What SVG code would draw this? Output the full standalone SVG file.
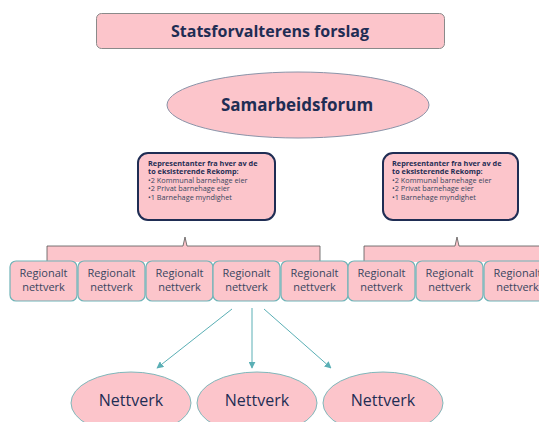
<svg xmlns="http://www.w3.org/2000/svg" width="539" height="422" viewBox="0 0 539 422">
<defs>
<style>
.t{font-family:"Open Sans","Liberation Sans",sans-serif;fill:#1f2d54;text-anchor:middle}
.reg{fill:#fcc5cb;stroke:#6fb4b8;stroke-width:1.2}
.regt{font-family:"Open Sans","Liberation Sans",sans-serif;fill:#3a4560;font-size:11px;text-anchor:middle}
.info{fill:#fcc5cb;stroke:#1f2d54;stroke-width:2}
.it{font-family:"Open Sans","Liberation Sans",sans-serif;fill:#3a4560;font-size:7.3px}
.itb{font-weight:bold;fill:#1f2d54}
.br{fill:#fcc5cb;stroke:#555;stroke-width:0.8}
.con{stroke:#5aafb5;stroke-width:1;fill:none}
.net{fill:#fcc5cb;stroke:#7fb8bb;stroke-width:1}
</style>
<marker id="ah" viewBox="0 0 10 10" refX="9" refY="5" markerWidth="7" markerHeight="7" orient="auto" markerUnits="userSpaceOnUse">
<path d="M0,0 L10,5 L0,10 z" fill="#5aafb5"/>
</marker>
</defs>
<g id="title">
<rect x="96.5" y="13.5" width="348" height="35" rx="5" fill="#fcc5cb" stroke="#8a8a8a" stroke-width="1"/>
<text class="t" x="270" y="37" font-size="16" font-weight="bold">Statsforvalterens forslag</text>
</g>
<g id="forum">
<ellipse cx="298" cy="105" rx="131" ry="33" fill="#fcc5cb" stroke="#8a93a8" stroke-width="1"/>
<text class="t" x="297" y="111" font-size="17" font-weight="bold">Samarbeidsforum</text>
</g>
<g id="info-left">
<rect class="info" x="138" y="153" width="137" height="67" rx="10"/>
<text class="it" x="148" y="165.5"><tspan class="itb">Representanter fra hver av de</tspan><tspan class="itb" x="148" dy="8.5">to eksisterende Rekomp:</tspan><tspan x="148" dy="8.5">•2 Kommunal barnehage  eier</tspan><tspan x="148" dy="8.5">•2 Privat barnehage  eier</tspan><tspan x="148" dy="8.5">•1 Barnehage  myndighet</tspan></text>
</g>
<g id="info-right">
<rect class="info" x="383" y="153" width="135" height="67" rx="10"/>
<text class="it" x="392" y="165.5"><tspan class="itb">Representanter fra hver av de</tspan><tspan class="itb" x="392" dy="8.5">to eksisterende Rekomp:</tspan><tspan x="392" dy="8.5">•2 Kommunal barnehage  eier</tspan><tspan x="392" dy="8.5">•2 Privat barnehage  eier</tspan><tspan x="392" dy="8.5">•1 Barnehage  myndighet</tspan></text>
</g>
<g id="brace-left">
<path class="br" d="M47,262 L47,246 L183,246 L185,237 L187,246 L320,246 L320,262"/>
</g>
<g id="brace-right">
<path class="br" d="M364,262 L364,246 L455,246 L457,237 L459,246 L545,246 L545,262"/>
</g>
<g id="r1"><rect class="reg" x="10" y="261" width="67" height="40" rx="6"/><text class="regt" x="43.5" y="277">Regionalt<tspan x="43.5" dy="14">nettverk</tspan></text></g>
<g id="r2"><rect class="reg" x="78" y="261" width="67" height="40" rx="6"/><text class="regt" x="111.5" y="277">Regionalt<tspan x="111.5" dy="14">nettverk</tspan></text></g>
<g id="r3"><rect class="reg" x="146" y="261" width="67" height="40" rx="6"/><text class="regt" x="179.5" y="277">Regionalt<tspan x="179.5" dy="14">nettverk</tspan></text></g>
<g id="r4"><rect class="reg" x="213" y="261" width="67" height="40" rx="6" stroke="#6a7c88"/><text class="regt" x="246.5" y="277">Regionalt<tspan x="246.5" dy="14">nettverk</tspan></text></g>
<g id="r5"><rect class="reg" x="281" y="261" width="67" height="40" rx="6"/><text class="regt" x="314.5" y="277">Regionalt<tspan x="314.5" dy="14">nettverk</tspan></text></g>
<g id="r6"><rect class="reg" x="348" y="261" width="67" height="40" rx="6"/><text class="regt" x="381.5" y="277">Regionalt<tspan x="381.5" dy="14">nettverk</tspan></text></g>
<g id="r7"><rect class="reg" x="416" y="261" width="67" height="40" rx="6"/><text class="regt" x="449.5" y="277">Regionalt<tspan x="449.5" dy="14">nettverk</tspan></text></g>
<g id="r8"><rect class="reg" x="484" y="261" width="67" height="40" rx="6"/><text class="regt" x="517.5" y="277">Regionalt<tspan x="517.5" dy="14">nettverk</tspan></text></g>
<g id="connectors">
<line class="con" x1="232" y1="309" x2="157" y2="368" marker-end="url(#ah)"/>
<line class="con" x1="252" y1="308" x2="252" y2="368" marker-end="url(#ah)"/>
<line class="con" x1="264" y1="309" x2="331" y2="368" marker-end="url(#ah)"/>
</g>
<g id="n1"><ellipse class="net" cx="131" cy="403" rx="60" ry="31"/><text class="t" x="131" y="406" font-size="16">Nettverk</text></g>
<g id="n2"><ellipse class="net" cx="257" cy="403" rx="60" ry="31"/><text class="t" x="257" y="406" font-size="16">Nettverk</text></g>
<g id="n3"><ellipse class="net" cx="383" cy="403" rx="60" ry="31"/><text class="t" x="383" y="406" font-size="16">Nettverk</text></g>
</svg>
